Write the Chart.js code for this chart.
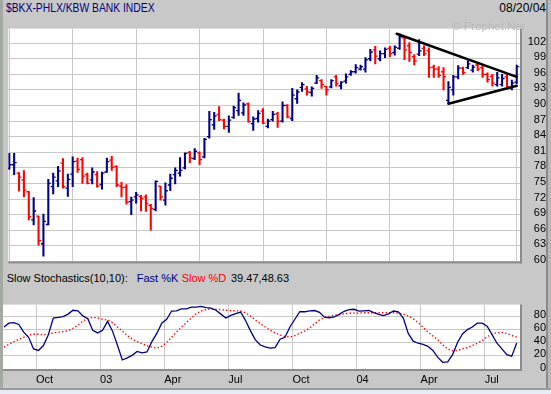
<!DOCTYPE html>
<html>
<head>
<meta charset="utf-8">
<script src="https://cdn.jsdelivr.net/npm/chart.js@4.4.1/dist/chart.umd.min.js"></script>
<style>
  html, body { margin: 0; padding: 0; }
  body {
    width: 551px; height: 394px; position: relative; overflow: hidden;
    background: #c8c8c8;
    font-family: "Liberation Sans", Arial, sans-serif;
  }
  .abs { position: absolute; }
  #edge-left { left: 0; top: 0; width: 3px; height: 390px; background: #a3aaa3; }
  #edge-right { left: 546px; top: 0; width: 2px; height: 390px; background: #8a8a8a; }
  #edge-right2 { left: 548px; top: 0; width: 3px; height: 390px; background: #b8b8b8; }
  #edge-bottom { left: 0; top: 388px; width: 551px; height: 2px; background: #9a9a9a; }
  #page-bottom { left: 0; top: 390px; width: 551px; height: 4px; background: #e6ecf4; }
  #title { left: 6px; top: 1px; font-size: 12px; line-height: 15px; color: #000080;
           transform: scaleX(0.86); transform-origin: left; white-space: nowrap; }
  #date { left: 498px; top: 1px; width: 48px; text-align: right; font-size: 12px; line-height: 15px; color: #000; }
  #watermark { left: 452px; top: 19px; font-size: 11.5px; line-height: 14px; color: #b9b9b9; z-index: 3; white-space: nowrap; }
  #price-box { left: 3px; top: 16px; width: 543px; height: 258px; }
  #stoch-head { left: 3px; top: 272px; width: 517px; height: 14px; background: #c8c8c8; z-index: 2; }
  #stoch-head span { position: absolute; top: 0; font-size: 11px; line-height: 13px; white-space: nowrap; }
  #stoch-box { left: 3px; top: 286px; width: 543px; height: 102px; }
</style>
</head>
<body>
<div id="edge-left" class="abs"></div>
<div id="edge-right" class="abs"></div>
<div id="edge-right2" class="abs"></div>
<div id="edge-bottom" class="abs"></div>
<div id="page-bottom" class="abs"></div>

<div id="title" class="abs">$BKX-PHLX/KBW BANK INDEX</div>
<div id="date" class="abs">08/20/04</div>
<div id="price-box" class="abs"><canvas id="price-chart"></canvas></div>
<div id="watermark" class="abs">© Prophet.Net</div>
<div id="stoch-head" class="abs">
  <span style="left:3.7px;color:#000">Slow Stochastics(10,10):</span>
  <span style="left:133.7px;color:#000080">Fast %K</span>
  <span style="left:178.7px;color:#ff0000">Slow %D</span>
  <span style="left:228px;color:#000">39.47,48.63</span>
</div>
<div id="stoch-box" class="abs"><canvas id="stoch-chart"></canvas></div>

<script>
// weekly bars, Aug 2002 - Aug 2004 (index 0 = first week)
const opens = [77.9, 78.6, 77.0, 75.7, 73.4, 68.0, 68.7, 63.4, 67.1, 74.4,
    75.5, 78.9, 74.1, 76.8, 79.3, 79.6, 76.7, 75.7, 76.7, 74.8,
    77.2, 79.5, 78.3, 74.5, 74.3, 71.5, 72.4, 72.5, 72.4, 70.8,
    70.0, 74.5, 71.8, 74.7, 76.7, 77.0, 78.0, 81.0, 79.8, 80.9,
    80.1, 84.0, 86.3, 88.3, 87.2, 86.0, 87.7, 89.0, 88.6, 90.3,
    86.5, 87.5, 88.9, 86.0, 87.3, 88.4, 87.0, 90.0, 87.5, 91.3,
    93.5, 93.2, 92.5, 94.3, 94.8, 93.7, 93.6, 95.5, 93.8, 94.7,
    96.0, 96.5, 97.0, 97.0, 99.0, 100.7, 99.0, 100.0, 101.0, 100.2,
    101.0, 103.0, 101.5, 99.4, 99.9, 101.0, 100.5, 97.4, 97.0, 96.5,
    91.0, 93.0, 95.5, 97.2, 97.3, 96.8, 97.8, 97.3, 96.0, 95.6,
    94.0, 94.0, 95.5, 93.4, 94.5];
const highs = [80.8, 80.8, 77.1, 77.5, 73.5, 72.3, 68.7, 69.1, 75.8, 77.0,
    78.3, 79.8, 76.8, 80.1, 79.9, 80.0, 77.0, 78.0, 77.3, 77.2,
    79.9, 80.2, 78.4, 75.2, 74.8, 72.4, 73.3, 72.7, 72.8, 71.0,
    75.5, 74.5, 75.1, 76.8, 78.0, 80.0, 80.9, 81.2, 81.7, 81.1,
    83.7, 88.9, 88.7, 89.8, 87.4, 88.0, 89.9, 92.4, 90.5, 90.5,
    87.8, 89.0, 89.4, 87.4, 88.9, 88.7, 90.7, 90.2, 93.3, 93.0,
    94.4, 93.7, 93.6, 95.8, 95.0, 93.7, 95.0, 95.8, 94.6, 96.1,
    96.7, 97.9, 97.8, 99.2, 100.8, 101.4, 100.5, 101.1, 101.4, 101.5,
    103.8, 103.2, 102.1, 99.8, 102.7, 101.5, 101.1, 97.8, 97.5, 97.3,
    94.6, 95.8, 97.7, 97.4, 98.6, 97.8, 98.0, 97.7, 96.3, 96.0,
    96.4, 96.0, 96.1, 94.9, 97.8];
const lows = [77.7, 76.7, 73.5, 72.4, 68.0, 67.0, 63.1, 61.0, 67.0, 73.0,
    74.4, 74.1, 72.5, 74.4, 77.1, 75.0, 74.9, 74.9, 74.3, 73.9,
    77.1, 77.5, 74.4, 72.4, 71.0, 69.0, 71.2, 69.7, 69.6, 66.0,
    69.7, 71.8, 70.8, 73.6, 74.9, 76.4, 77.8, 79.0, 79.6, 78.6,
    79.9, 83.7, 85.4, 87.1, 85.5, 84.8, 87.5, 88.1, 88.1, 86.8,
    85.2, 86.8, 86.5, 85.7, 87.0, 85.8, 86.8, 87.6, 87.1, 90.4,
    92.7, 92.0, 91.8, 94.2, 93.3, 92.0, 93.4, 93.7, 93.2, 94.3,
    95.8, 96.2, 96.8, 96.4, 98.6, 98.0, 98.6, 99.2, 99.4, 99.7,
    100.8, 98.8, 98.5, 97.8, 99.6, 99.6, 95.4, 95.4, 95.4, 93.0,
    90.4, 92.0, 95.1, 96.0, 97.1, 96.4, 96.7, 95.4, 94.5, 93.7,
    93.7, 93.7, 93.1, 93.0, 94.2];
const closes = [78.6, 79.0, 76.2, 73.7, 68.6, 69.7, 64.0, 67.7, 75.0, 76.2,
    77.4, 74.4, 75.8, 79.2, 77.7, 76.4, 75.0, 77.2, 74.5, 77.0,
    79.2, 78.1, 74.7, 74.2, 71.4, 71.8, 72.8, 72.1, 71.1, 70.2,
    75.4, 72.4, 73.6, 76.0, 77.5, 77.5, 80.8, 79.9, 81.2, 79.6,
    83.5, 87.3, 88.0, 87.3, 86.0, 87.2, 89.6, 91.0, 90.1, 86.9,
    87.4, 88.5, 86.6, 87.0, 88.3, 87.0, 90.0, 87.8, 92.0, 92.6,
    94.0, 92.6, 93.3, 95.3, 94.0, 93.0, 94.8, 94.2, 94.5, 95.5,
    96.5, 97.3, 97.5, 98.8, 100.3, 99.5, 100.0, 100.8, 100.0, 101.2,
    103.2, 100.7, 100.2, 98.6, 100.5, 100.0, 97.3, 97.0, 95.8, 95.5,
    93.5, 95.5, 97.2, 96.3, 98.0, 97.4, 97.0, 96.0, 95.0, 94.3,
    95.3, 95.2, 93.6, 94.3, 97.5];

const fastK = [63.9, 69.8, 70.5, 67.8, 56, 48.2, 30.6, 28.2, 35.7, 52.2,
    77.6, 78.4, 79.6, 83.5, 89.4, 88.6, 80.8, 76.4, 58.8, 54.9,
    58.8, 72.5, 58, 36.5, 13.7, 16.9, 20.8, 26.7, 24.7, 25.9,
    41.6, 54.1, 69.8, 75.7, 88.2, 88.6, 91.4, 91.4, 94.1, 94.1,
    95.3, 93.3, 92.6, 89.4, 83.5, 77.6, 81.6, 84.3, 86.7, 73.7,
    58, 44.3, 36.5, 33.7, 31.8, 32.5, 45.4, 48.2, 63.9, 75.7,
    87.4, 87.1, 88.6, 89, 86.3, 78.8, 78, 79.2, 83.1, 87.8,
    90.5, 90.9, 88.2, 88.6, 89, 85.9, 83.1, 81.2, 83.9, 88.2,
    87, 77.6, 54.1, 42.4, 39.2, 37.3, 34.5, 28.2, 17.6, 10.2,
    10.9, 21.9, 40.4, 53.3, 60, 63.9, 69.8, 69.8, 65.1, 52.2,
    39.2, 30.6, 21.9, 19.6, 39.47];
const slowD = [33.3, 37.6, 41.6, 45.1, 48.2, 51.4, 52.9, 52.9, 52.2, 53.3,
    54.9, 56.1, 56.9, 58, 62, 66.7, 73, 76.9, 78.4, 77.6,
    75.7, 74.5, 70.5, 63.9, 58, 51, 45.5, 41.6, 38.4, 35.3,
    33.3, 31.8, 34.5, 40.4, 48.2, 56.1, 63.9, 70.5, 77.6, 84.3,
    88.2, 90.5, 91.4, 90.9, 90.2, 89.4, 88.6, 88.6, 88.2, 85.5,
    80.8, 74.5, 69, 63.9, 58.8, 54.9, 51.8, 49.4, 48.6, 50.9,
    54.5, 57.6, 62.4, 68.6, 74.5, 78.4, 80.4, 82, 82.7, 83.9,
    84.7, 85.1, 85.1, 85.5, 85.5, 85.5, 85.5, 85.5, 85.5, 85.5,
    85.1, 83.5, 80.8, 76.5, 70.6, 63.5, 56.1, 50.2, 44.3, 36.5,
    30.6, 27.8, 28.2, 30.6, 32.5, 35.7, 39.2, 43.1, 49, 53.3,
    55.3, 55.7, 54.1, 51, 48.63];

// hand-drawn triangle (bar index, price)
const upperTrend = [{ x: 79.4, y: 103.8 }, { x: 104, y: 95.5 }];
const lowerTrend = [{ x: 90, y: 90.35 }, { x: 104, y: 93.8 }];

// quarter starts, in bar-index units
const quarterTicks = [6.5, 19.5, 32.5, 45.5, 58.5, 71.5, 84.5, 97.5];
const quarterLabels = ['Oct', '03', 'Apr', 'Jul', 'Oct', '04', 'Apr', 'Jul'];
const priceTicks = [60, 63, 66, 69, 72, 75, 78, 81, 84, 87, 90, 93, 96, 99, 102];
const stochTicks = [0, 20, 40, 60, 80];

const NAVY = '#000080';
const RED = '#ff0000';
const GRID = '#c8c8c8';
const X_MIN = -0.2, X_MAX = 104.67;

Chart.defaults.font.family = '"Liberation Sans", Arial, sans-serif';
Chart.defaults.font.size = 11;
Chart.defaults.color = '#000';

const plotFrame = {
    id: 'plotFrame',
    beforeDraw(chart) {
        const { ctx, chartArea: a } = chart;
        ctx.save();
        ctx.fillStyle = '#ffffff';
        ctx.fillRect(a.left, a.top, a.width, a.height);
        ctx.restore();
    },
    afterDraw(chart) {
        const { ctx, chartArea: a } = chart;
        ctx.save();
        ctx.fillStyle = '#8c8c8c';
        ctx.fillRect(a.right, a.top, 2, a.height + 2);
        ctx.fillRect(a.left, a.bottom, a.width + 2, 2);
        ctx.restore();
    }
};

function xScale(showLabels) {
    return {
        type: 'linear',
        min: X_MIN,
        max: X_MAX,
        offset: false,
        afterBuildTicks: s => { s.ticks = quarterTicks.map(v => ({ value: v })); },
        ticks: {
            display: showLabels,
            callback: (v, i) => quarterLabels[i],
            align: 'start',
            padding: 4,
            maxRotation: 0,
            autoSkip: false
        },
        grid: { color: GRID, drawTicks: false },
        border: { display: false },
        afterFit: s => { s.height = showLabels ? 19 : 0; }
    };
}

function yScale(min, max, tickValues, pad) {
    return {
        position: 'right',
        min: min,
        max: max,
        afterBuildTicks: s => { s.ticks = tickValues.map(v => ({ value: v })); },
        ticks: { padding: pad, labelOffset: -1.5, crossAlign: 'far', autoSkip: false },
        grid: { color: GRID, drawTicks: false },
        border: { display: false },
        afterFit: s => { s.width = 26; }
    };
}

function renderPriceChart() {
    const idx = closes.map((c, i) => i);
    const colors = idx.map(i => closes[i] >= opens[i] ? NAVY : RED);
    const ctx = document.getElementById('price-chart').getContext('2d');
    new Chart(ctx, {
        type: 'bar',
        data: {
            datasets: [
                {
                    type: 'line', data: upperTrend, borderColor: '#000', borderWidth: 2.5,
                    pointRadius: 0, borderCapStyle: 'round'
                },
                {
                    type: 'line', data: lowerTrend, borderColor: '#000', borderWidth: 2.5,
                    pointRadius: 0, borderCapStyle: 'round'
                },
                {
                    type: 'line', showLine: false,
                    data: idx.map(i => ({ x: i - 0.26, y: opens[i] })),
                    pointStyle: 'line', pointRadius: 1.2, borderWidth: 1.3,
                    borderColor: colors, pointBorderColor: colors
                },
                {
                    type: 'line', showLine: false,
                    data: idx.map(i => ({ x: i + 0.26, y: closes[i] })),
                    pointStyle: 'line', pointRadius: 1.2, borderWidth: 1.3,
                    borderColor: colors, pointBorderColor: colors
                },
                {
                    type: 'bar',
                    data: idx.map(i => ({ x: i, y: [lows[i], highs[i]] })),
                    backgroundColor: colors,
                    barThickness: 1.4,
                    borderWidth: 0
                }
            ]
        },
        options: {
            responsive: true,
            maintainAspectRatio: false,
            animation: false,
            events: [],
            layout: { padding: { top: 0, bottom: 4, left: 0, right: 0 } },
            plugins: { legend: { display: false }, tooltip: { enabled: false } },
            scales: {
                x: xScale(false),
                y: yScale(60, 104.8, priceTicks, 6)
            }
        },
        plugins: [plotFrame]
    });
}

function renderStochChart() {
    const idx = fastK.map((v, i) => i);
    const ctx = document.getElementById('stoch-chart').getContext('2d');
    new Chart(ctx, {
        type: 'line',
        data: {
            datasets: [
                {
                    data: idx.map(i => ({ x: i, y: fastK[i] })),
                    borderColor: NAVY, borderWidth: 1.3, pointRadius: 0
                },
                {
                    data: idx.map(i => ({ x: i, y: slowD[i] })),
                    borderColor: RED, borderWidth: 1.4, borderDash: [1.4, 2.2], pointRadius: 0
                }
            ]
        },
        options: {
            responsive: true,
            maintainAspectRatio: false,
            animation: false,
            events: [],
            layout: { padding: 0 },
            plugins: { legend: { display: false }, tooltip: { enabled: false } },
            scales: {
                x: xScale(true),
                y: yScale(0, 98, stochTicks, 12)
            }
        },
        plugins: [plotFrame]
    });
}

document.addEventListener('DOMContentLoaded', () => {
    renderPriceChart();
    renderStochChart();
});
</script>
</body>
</html>
